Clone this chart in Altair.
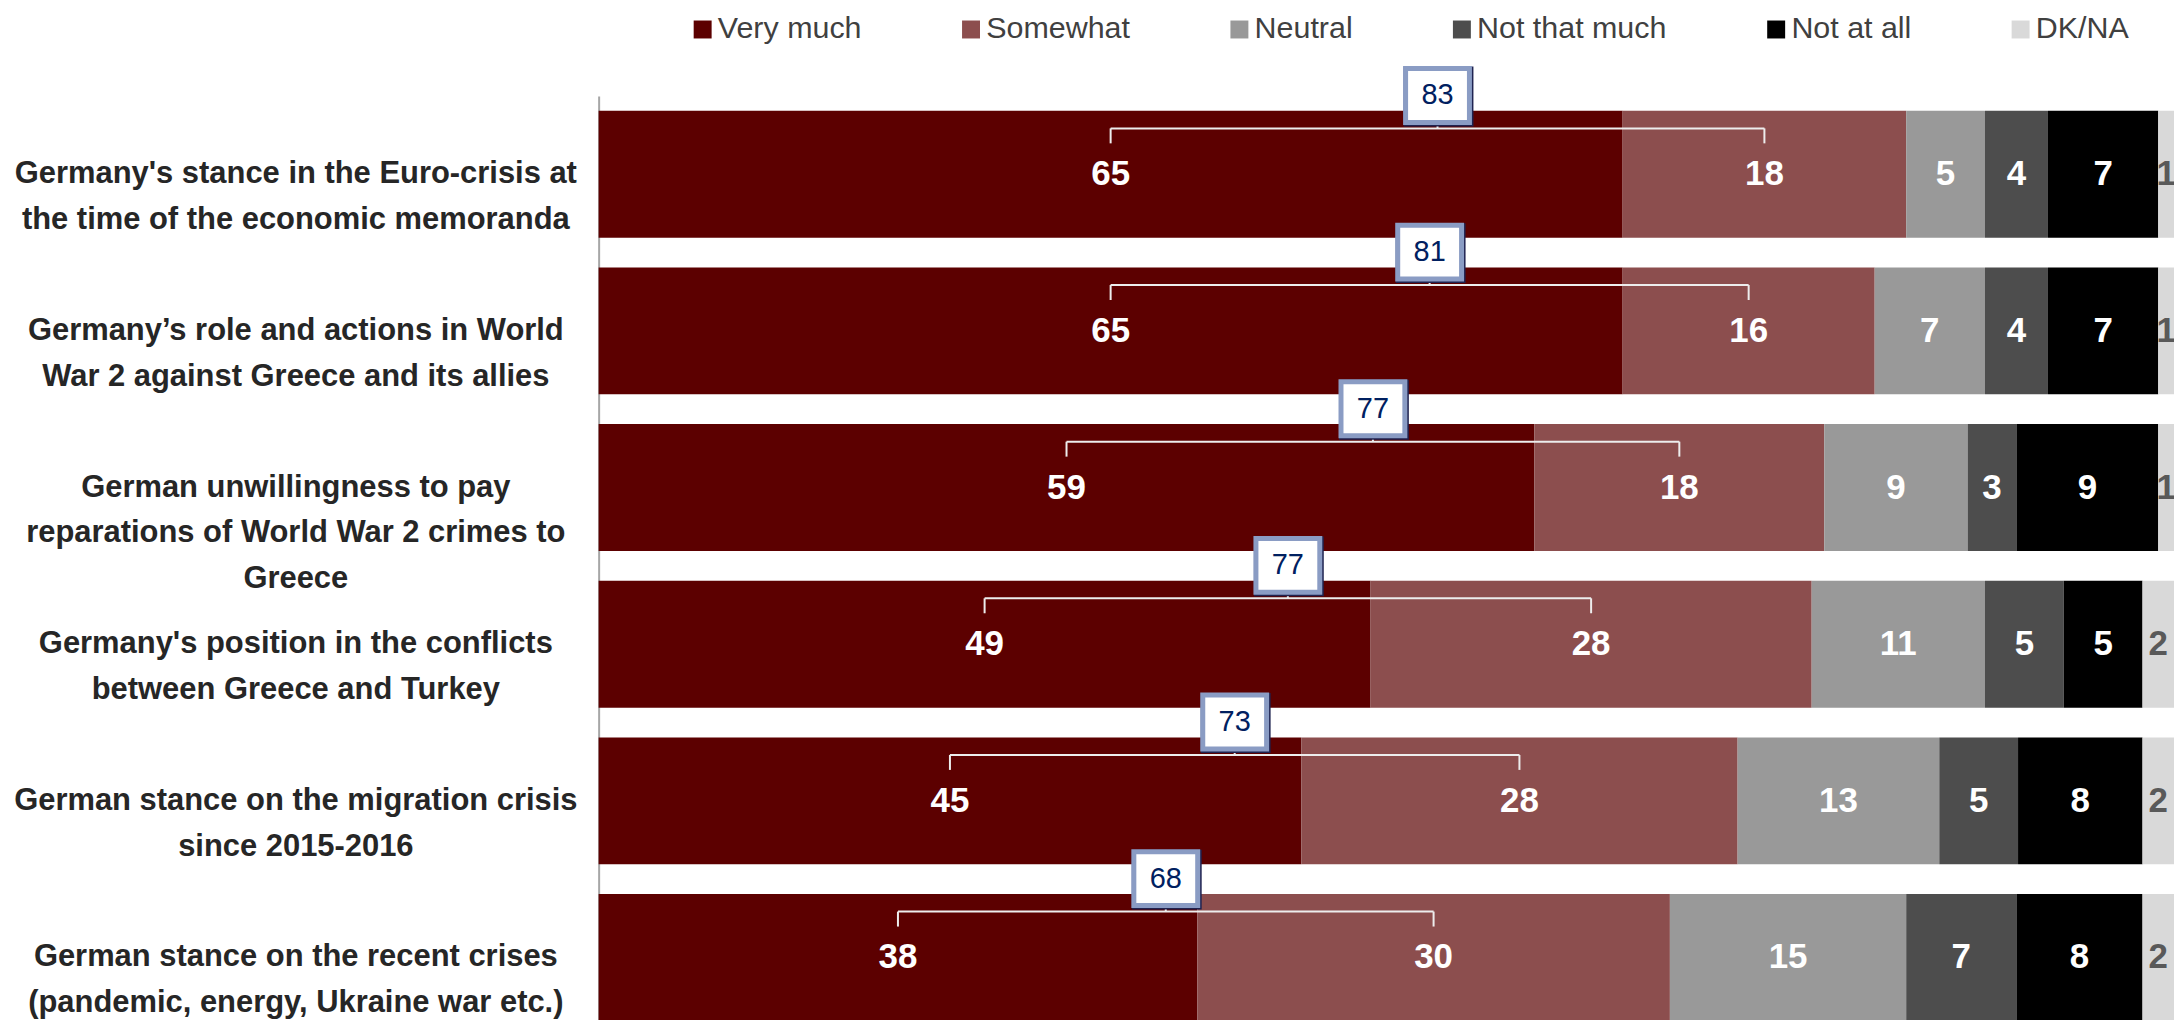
import altair as alt
import pandas as pd

categories = [
    "Germany's stance in the Euro-crisis at|the time of the economic memoranda",
    "Germany’s role and actions in World|War 2 against Greece and its allies",
    "German unwillingness to pay|reparations of World War 2 crimes to|Greece",
    "Germany's position in the conflicts|between Greece and Turkey",
    "German stance on the migration crisis|since 2015-2016",
    "German stance on the recent crises|(pandemic, energy, Ukraine war etc.)",
]
responses = ["Very much", "Somewhat", "Neutral", "Not that much", "Not at all", "DK/NA"]
colors = ["#5C0000", "#8C4E4E", "#999999", "#4D4D4D", "#000000", "#D9D9D9"]

very_much = [65, 65, 59.4, 49, 44.6, 38]
somewhat = [18, 16, 18.4, 28, 27.7, 30]
neutral = [5, 7, 9.1, 11, 12.8, 15]
not_that_much = [4, 4, 3.1, 5, 5.0, 7]
not_at_all = [7, 7, 9.0, 5, 7.9, 8]
dk_na = [1, 1, 1.0, 2, 2.0, 2]

series = [very_much, somewhat, neutral, not_that_much, not_at_all, dk_na]

FONT = "Liberation Sans Narrow, Arial Narrow, Liberation Sans, Arial, sans-serif"

rows = []
for i, cat in enumerate(categories):
    start = 0.0
    for r, vals in zip(responses, series):
        v = vals[i]
        rows.append({"category": cat, "response": r, "value": v,
                     "start": start, "end": start + v, "mid": start + v / 2,
                     "label": str(int(round(v)))})
        start += v
seg = pd.DataFrame(rows)

brk = []
ticks = []
for i, cat in enumerate(categories):
    vm = very_much[i]
    sw = somewhat[i]
    vm_mid = vm / 2
    sw_mid = vm + sw / 2
    box_x = (vm_mid + sw_mid) / 2
    total = int(round(vm)) + int(round(sw))
    brk.append({"category": cat, "vm_mid": vm_mid, "sw_mid": sw_mid,
                "box_x": box_x, "total": str(total)})
    ticks.append({"category": cat, "x": vm_mid})
    ticks.append({"category": cat, "x": sw_mid})
brk = pd.DataFrame(brk)
ticks = pd.DataFrame(ticks)

y_enc = alt.Y(
    "category:N", sort=categories, title=None,
    scale=alt.Scale(paddingInner=0.19, paddingOuter=0.095, range=[0, 942]),
    axis=alt.Axis(
        labelExpr="split(datum.label, '|')",
        labelFont=FONT, labelFontSize=31, labelFontWeight="bold",
        labelColor="#262626", labelLineHeight=46, labelAlign="center",
        labelBaseline="middle", labelPadding=304, labelLimit=1000,
        ticks=False, domain=True, domainColor="#A6A6A6", domainWidth=2,
    ),
)
x_scale = alt.Scale(domain=[0, 100], nice=False, zero=False)
x_axis = None

bars = alt.Chart(seg).mark_bar().encode(
    x=alt.X("start:Q", scale=x_scale, axis=x_axis),
    x2="end:Q",
    y=y_enc,
    color=alt.Color(
        "response:N",
        scale=alt.Scale(domain=responses, range=colors),
        legend=alt.Legend(
            orient="none", legendX=89, legendY=-82, direction="horizontal",
            columns=6, title=None, labelFont=FONT, labelFontSize=30.5,
            labelColor="#404040", symbolType="square", symbolSize=324,
            symbolStrokeWidth=0, columnPadding=94, labelOffset=0,
            labelLimit=400, padding=0,
        ),
    ),
    order=alt.Order("start:Q"),
)

labels = alt.Chart(seg).mark_text(
    font=FONT, fontSize=35, fontWeight="bold", baseline="middle", align="center"
).encode(
    x=alt.X("mid:Q", scale=x_scale, axis=x_axis),
    y=alt.Y("category:N", sort=categories),
    text="label:N",
    color=alt.condition(alt.datum.response == "DK/NA",
                        alt.value("#595959"), alt.value("#FFFFFF")),
)

line_color = "#EDEDED"
hline = alt.Chart(brk).mark_rule(
    color=line_color, strokeWidth=2, yOffset=-46
).encode(
    x=alt.X("vm_mid:Q", scale=x_scale, axis=x_axis),
    x2="sw_mid:Q",
    y=alt.Y("category:N", sort=categories),
)

vticks = alt.Chart(ticks).mark_rule(
    color=line_color, strokeWidth=2, yOffset=-46, y2Offset=-31
).encode(
    x=alt.X("x:Q", scale=x_scale, axis=x_axis),
    y=alt.Y("category:N", sort=categories),
    y2="category:N",
)

notch = alt.Chart(brk).mark_rule(
    color=line_color, strokeWidth=2, yOffset=-56, y2Offset=-46
).encode(
    x=alt.X("box_x:Q", scale=x_scale, axis=x_axis),
    y=alt.Y("category:N", sort=categories),
    y2="category:N",
)

box_outer = alt.Chart(brk).mark_point(
    shape="M-1,-0.857L1,-0.857L1,0.857L-1,0.857Z", size=4900, filled=True,
    fill="#1F2350", opacity=1, strokeWidth=0, yOffset=-78, xOffset=1,
).encode(
    x=alt.X("box_x:Q", scale=x_scale, axis=x_axis),
    y=alt.Y("category:N", sort=categories),
)

box_inner = alt.Chart(brk).mark_point(
    shape="M-1,-0.844L1,-0.844L1,0.844L-1,0.844Z", size=4096, filled=True,
    fill="#FFFFFF", stroke="#8A9CC4", strokeWidth=5, opacity=1, yOffset=-79,
).encode(
    x=alt.X("box_x:Q", scale=x_scale, axis=x_axis),
    y=alt.Y("category:N", sort=categories),
)

box_text = alt.Chart(brk).mark_text(
    font="Liberation Sans, Arial, sans-serif", fontSize=29, color="#002060",
    baseline="middle", align="center", yOffset=-79,
).encode(
    x=alt.X("box_x:Q", scale=x_scale, axis=x_axis),
    y=alt.Y("category:N", sort=categories),
    text="total:N",
)

chart = alt.layer(
    bars, labels, hline, vticks, notch, box_outer, box_inner, box_text
).properties(
    width=1579, height=925,
    autosize="none",
    padding={"left": 592, "top": 87, "right": 0, "bottom": 0},
    background="white",
).configure_view(stroke=None)

chart.save("out.html", embed_options={"renderer": "svg", "actions": False})
